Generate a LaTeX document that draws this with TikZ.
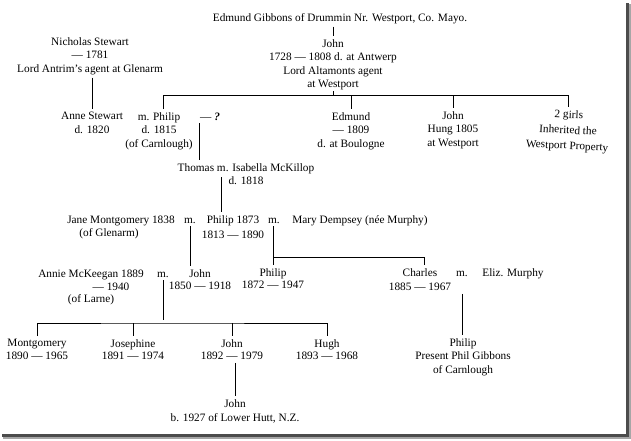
\documentclass[tikz,border=0pt]{standalone}
\usepackage{fontspec}
\setmainfont{Liberation Serif}
\tikzset{
	person/.style={inner sep=0pt, align=center, font=\fontsize{11.3}{13.5}\selectfont},
	tie/.style={line width=0.9pt},
	kin/.style={tie, shorten <=3pt, shorten >=3pt}
}
\begin{document}
\begin{tikzpicture}[x=1pt, y=-1pt]
	\useasboundingbox (0,0) rectangle (631,440);
	\fill[black!70] (626,3) rectangle (629,437);
	\fill[black!70] (2,434) rectangle (629,437);
	\fill[black!35] (629,4) rectangle (630.5,438.5);
	\fill[black!35] (3,437) rectangle (630.5,438.5);
	\node[person, anchor=base] (edmundsr) at (340,21) {Edmund Gibbons of Drummin Nr. Westport, Co. Mayo.};
	\node[person, anchor=north] (johnsr) at (333,39) {John\\1728 — 1808 d. at Antwerp\\Lord Altamonts agent\\at Westport};
	\node[person, anchor=north] (nicholas) at (90,37) {Nicholas Stewart\\— 1781\\Lord Antrim's agent at Glenarm};
	\node[person, anchor=north] (anne) at (92,112) {Anne Stewart\\d. 1820};
	\node[person, anchor=north] (philipA) at (159,112) {m. Philip\\d. 1815\\(of Carnlough)};
	\node[person, anchor=base] (spouse) at (210,120) {— \textbf{\textit{?}}};
	\node[person, anchor=north] (edmund) at (351,112) {Edmund\\— 1809\\d. at Boulogne};
	\node[person, anchor=north] (johnhung) at (453,111) {John\\Hung 1805\\at Westport};
	\node[person, rotate=-3] (girls) at (568,131) {2 girls\\[2pt]Inherited the\\[2pt]Westport Property};
	\node[person, anchor=north] (thomas) at (246,163) {Thomas m. Isabella McKillop\\d. 1818};
	\node[person, anchor=base] (jane) at (121,223) {Jane Montgomery 1838};
	\node[person, anchor=base] (janeof) at (109,236) {(of Glenarm)};
	\node[person, anchor=base] (m1) at (190,223) {m.};
	\node[person, anchor=north] (philip2) at (233,215) {Philip 1873\\[2pt]1813 — 1890};
	\node[person, anchor=base] (m2) at (274,223) {m.};
	\node[person, anchor=base] (mary) at (360,223) {Mary Dempsey (née Murphy)};
	\node[person, anchor=base] (annie) at (91,277) {Annie McKeegan 1889};
	\node[person, anchor=base] (anniedied) at (111,290) {— 1940};
	\node[person, anchor=base] (annieof) at (91,302) {(of Larne)};
	\node[person, anchor=base] (m3) at (163,277) {m.};
	\node[person, anchor=north] (john3) at (200,269) {John\\[-1.5pt]1850 — 1918};
	\node[person, anchor=north] (philip3) at (273,268) {Philip\\[-1pt]1872 — 1947};
	\node[person, anchor=north] (charles) at (420,268) {Charles\\[1pt]1885 — 1967};
	\node[person, anchor=base] (m4) at (462,276) {m.};
	\node[person, anchor=base] (eliz) at (513,276) {Eliz. Murphy};
	\node[person, anchor=north] (philip4) at (463,338) {Philip\\Present Phil Gibbons\\of Carnlough};
	\node[person, anchor=north] (montgomery) at (37,339) {Montgomery\\[-1pt]1890 — 1965};
	\node[person, anchor=north] (josephine) at (133,339) {Josephine\\[-1pt]1891 — 1974};
	\node[person, anchor=north] (john4) at (232,339) {John\\[-1pt]1892 — 1979};
	\node[person, anchor=north] (hugh) at (327,339) {Hugh\\[-1pt]1893 — 1968};
	\node[person, anchor=north] (john5) at (235,399) {John\\[1pt]b. 1927 of Lower Hutt, N.Z.};
	\coordinate (sibL) at (163,95);
	\coordinate (sibR) at (568,95);
	\coordinate (tpos) at (199,0);
	\coordinate (thomasm) at (221,177);
	\coordinate (sibP) at (273,257);
	\coordinate (sibC) at (424,257);
	\coordinate (kidsbar) at (163,323);
	\draw[kin] (edmundsr.south -| johnsr.north) -- (johnsr.north);
	\draw[tie, shorten <=1pt] (johnsr.south) -- (johnsr.south |- sibL);
	\draw[kin] (philipA.north -| sibL) |- (sibR) -- (girls.north -| sibR);
	\draw[kin, shorten <=0pt] (edmund.north |- sibL) -- (edmund.north);
	\draw[kin, shorten <=0pt] (johnhung.north |- sibL) -- (johnhung.north);
	\draw[kin] (nicholas.south -| anne.north) -- (anne.north);
	\draw[kin] (spouse.south -| tpos) -- (thomas.north -| tpos);
	\draw[kin, shorten <=0pt] (thomasm) -- (philip2.north -| thomasm);
	\draw[kin] (m1.south) -- (m1.south |- john3.north);
	\draw[kin] (m2.south -| sibP) -- (sibP |- philip3.north);
	\draw[kin, shorten <=0pt] (sibP) -- (sibC) -- (sibC |- charles.north);
	\draw[kin] (m3.south) -- (kidsbar);
	\draw[kin] (montgomery.north) |- (kidsbar) -| (hugh.north);
	\draw[kin, shorten <=0pt] (josephine.north |- kidsbar) -- (josephine.north);
	\draw[kin, shorten <=0pt] (john4.north |- kidsbar) -- (john4.north);
	\draw[kin] (charles.south -| m4) -- (philip4.north -| m4);
	\draw[kin] (john4.south -| john5.north) -- (john5.north);
\end{tikzpicture}
\end{document}
